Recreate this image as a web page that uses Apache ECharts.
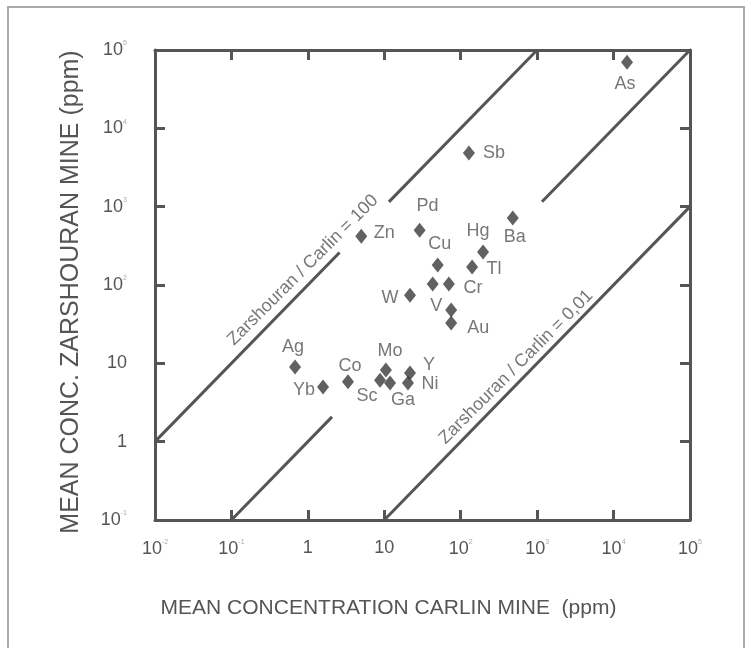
<!DOCTYPE html>
<html>
<head>
<meta charset="utf-8">
<script src="https://cdn.jsdelivr.net/npm/echarts@6/dist/echarts.min.js"></script>
<style>
  html, body { margin: 0; padding: 0; background: #fff; }
  #chart { width: 749px; height: 648px; }
</style>
</head>
<body>
<div id="chart"></div>
<script>
// element data (ppm)
const elements   = ['As', 'Sb', 'Pd', 'Zn', 'Ba', 'Hg', 'Cu', 'Tl', '', 'Cr', 'W', 'V', 'Au',
                    'Ag', 'Yb', 'Co', 'Mo', 'Sc', 'Ga', 'Y', 'Ni'];
const carlin     = [15000, 128, 29, 5.0, 480, 196, 50, 141, 43, 70, 21.7, 75, 75,
                    0.68, 1.58, 3.35, 10.5, 8.8, 11.9, 21.7, 20.4];
const zarshouran = [70000, 4840, 500, 420, 716, 264, 180, 170, 103, 103, 74, 48, 32.7,
                    9.0, 5.0, 5.8, 8.2, 6.1, 5.6, 7.5, 5.6];

// ratio lines, drawn in pieces with gaps like the original
const ratio100Segments = [[[0.01, 1], [2.6, 260]], [[11.5, 1150], [1000, 100000]]];
const ratio1Segments   = [[[0.1, 0.1], [2.07, 2.07]], [[1157, 1157], [100000, 100000]]];
const ratio001Segments = [[[10, 0.1], [100000, 1000]]];

// tick labels per decade exponent
const xTickExps   = [-2, -1, 0, 1, 2, 3, 4, 5];
const xTickLabels = ['{b|10}{s|-2}', '{b|10}{s|-1}', '1', '10', '{b|10}{s|2}', '{b|10}{s|3}', '{b|10}{s|4}', '{b|10}{s|5}'];
const yTickExps   = [-1, 0, 1, 2, 3, 4, 5];
const yTickLabels = ['{b|10}{s|-1}', '1', '10', '{b|10}{s|2}', '{b|10}{s|3}', '{b|10}{s|4}', '{b|10}{s|5}'];

// label offsets from diamond centre, px
const labelOffsets = {
  As: [-2, 22], Sb: [25, 0], Pd: [8, -24], Zn: [23, -3], Ba: [2, 19], Hg: [-5, -21],
  Cu: [2, -21], Tl: [22, 2], Cr: [24, 4], W: [-20, 3], V: [-15, -4], Au: [27, 5],
  Ag: [-2, -20], Yb: [-19, 3], Co: [2, -16], Mo: [4, -19], Sc: [-13, 16], Ga: [13, 17],
  Y: [19, -8], Ni: [22, 1]
};

const INK = '#555';
const FONT = '"Liberation Sans", Arial, sans-serif';

const richTick = {
  b: { fontSize: 18, color: INK, fontFamily: FONT },
  s: { fontSize: 7, color: '#aaa', fontFamily: FONT, padding: [0, 0, 13, 0] }
};

function tickFormatter(exps, labels) {
  return function (v) {
    const e = Math.round(Math.log10(v));
    const i = exps.indexOf(e);
    return i >= 0 ? labels[i] : '';
  };
}

const frameAxis = {
  axisLine: { show: true, lineStyle: { color: INK, width: 3 } },
  axisTick: { show: true, inside: true, length: 10, lineStyle: { color: INK, width: 3 } },
  splitLine: { show: false },
  minorTick: { show: false }
};

const segSeries = [];
[ratio100Segments, ratio1Segments, ratio001Segments].forEach(function (segs) {
  segs.forEach(function (seg) {
    segSeries.push({
      type: 'line',
      data: seg,
      symbol: 'none',
      silent: true,
      lineStyle: { color: INK, width: 3 },
      z: 2
    });
  });
});

const points = elements.map(function (el, i) {
  const off = labelOffsets[el] || [0, 0];
  return {
    value: [carlin[i], zarshouran[i]],
    name: el,
    label: { show: el !== '', offset: off }
  };
});

const chart = echarts.init(document.getElementById('chart'), null, { renderer: 'canvas' });
chart.setOption({
  backgroundColor: '#fff',
  animation: false,
  textStyle: { fontFamily: FONT },
  graphic: [{
    type: 'rect',
    shape: { x: 8, y: 7, width: 736, height: 660 },
    style: { fill: 'none', stroke: '#aaa', lineWidth: 2 },
    silent: true
  }],
  grid: { left: 155, right: 59, top: 50, bottom: 128 },
  xAxis: [
    Object.assign({
      type: 'log', logBase: 10, min: 0.01, max: 100000, splitNumber: 7, position: 'bottom',
      name: 'MEAN CONCENTRATION CARLIN MINE  (ppm)', nameLocation: 'middle', nameGap: 78,
      nameTextStyle: { color: INK, fontSize: 21, fontFamily: FONT, padding: [0, 68, 0, 0] },
      axisLabel: { margin: 19, formatter: tickFormatter(xTickExps, xTickLabels), color: INK, fontSize: 18, rich: richTick }
    }, frameAxis),
    Object.assign({
      type: 'log', logBase: 10, min: 0.01, max: 100000, splitNumber: 7, position: 'top',
      axisLabel: { show: false }
    }, frameAxis)
  ],
  yAxis: [
    Object.assign({
      type: 'log', logBase: 10, min: 0.1, max: 100000, splitNumber: 6, position: 'left',
      name: 'MEAN CONC. ZARSHOURAN MINE (ppm)', nameLocation: 'middle', nameGap: 71,
      nameTextStyle: { color: INK, fontSize: 25, fontFamily: FONT, padding: [0, 14, 0, 0] },
      axisLabel: { margin: 28, formatter: tickFormatter(yTickExps, yTickLabels), color: INK, fontSize: 18, rich: richTick }
    }, frameAxis),
    Object.assign({
      type: 'log', logBase: 10, min: 0.1, max: 100000, splitNumber: 6, position: 'right',
      axisLabel: { show: false }
    }, frameAxis)
  ],
  series: segSeries.concat([
    {
      type: 'scatter',
      symbol: 'diamond',
      symbolSize: [12, 15],
      itemStyle: { color: '#3a3a3a' },
      label: {
        position: 'inside',
        formatter: '{b}',
        color: INK,
        fontSize: 18,
        fontFamily: FONT
      },
      data: points,
      z: 5
    },
    {
      // ratio line captions, placed in data space
      type: 'scatter',
      symbolSize: 0,
      silent: true,
      label: {
        show: true,
        position: 'inside',
        rotate: 45,
        formatter: '{b}',
        color: INK,
        fontSize: 18,
        fontFamily: FONT
      },
      data: [
        { name: 'Zarshouran / Carlin = 100', value: [0.86, 155] },
        { name: 'Zarshouran / Carlin = 0,01', value: [529, 8.97] }
      ],
      z: 5
    }
  ])
});
</script>
</body>
</html>
